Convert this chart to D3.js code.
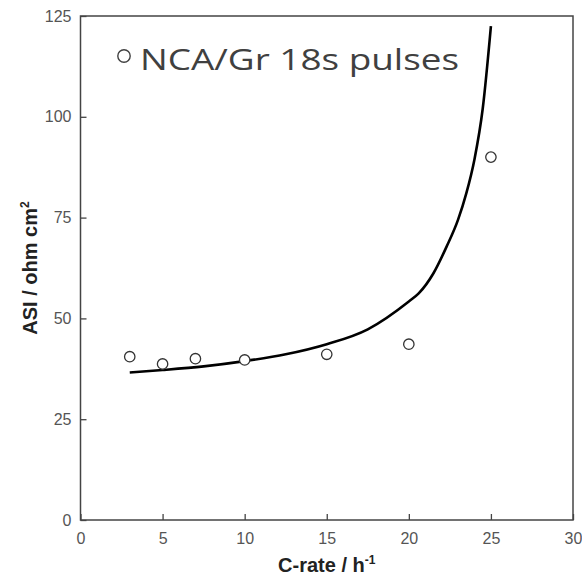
<!DOCTYPE html>
<html>
<head>
<meta charset="utf-8">
<script src="https://cdn.jsdelivr.net/npm/d3@7"></script>
<style>
  html, body { margin: 0; padding: 0; background: #fff; }
  svg { display: block; }
</style>
</head>
<body>
<div id="chart"></div>
<script>
// Measured points (C-rate, ASI)
const pointRates = [3, 5, 7, 10, 15, 20, 25];
const pointAsi = [40.5, 38.7, 40, 39.7, 41.1, 43.6, 90];

// Model curve
const curveRates = [3, 5, 7.5, 10, 12.5, 15, 17.5, 20, 20.6, 21.5, 22.3, 23, 23.5, 24, 24.5, 25];
const curveAsi = [36.6, 37.2, 38.1, 39.4, 41.1, 43.6, 47.3, 54.2, 56.2, 61.2, 67.8, 74.5, 81, 89.5, 102, 122.5];

const xTicks = [0, 5, 10, 15, 20, 25, 30];
const yTicks = [0, 25, 50, 75, 100, 125];

const W = 582, H = 580;
const margins = { top: 16, right: 9, bottom: 60, left: 80.5 };
const width = W - margins.left - margins.right;
const height = H - margins.top - margins.bottom;

const svg = d3.select('#chart').append('svg')
  .attr('width', W)
  .attr('height', H);

const g = svg.append('g')
  .attr('transform', `translate(${margins.left}, ${margins.top})`);

const x = d3.scaleLinear().domain([0, 30]).range([0, width]);
const y = d3.scaleLinear().domain([0, 125]).range([height, 0]);

// Axes, ticks pointing inward
const xAxis = d3.axisBottom(x).tickValues(xTicks).tickSize(-6).tickPadding(13);
const yAxis = d3.axisLeft(y).tickValues(yTicks).tickSize(-6).tickPadding(9);

const gx = g.append('g')
  .attr('transform', `translate(0, ${height})`)
  .call(xAxis);
const gy = g.append('g').call(yAxis);

[gx, gy].forEach(ax => {
  ax.select('.domain').remove();
  ax.selectAll('.tick line').attr('stroke', '#444').attr('stroke-width', 1.3);
  ax.selectAll('.tick text')
    .attr('fill', '#555')
    .attr('font-family', 'Liberation Sans, Arial, sans-serif')
    .attr('font-size', 16);
});

// Frame
g.append('rect')
  .attr('x', 0).attr('y', 0)
  .attr('width', width).attr('height', height)
  .attr('fill', 'none')
  .attr('stroke', '#444')
  .attr('stroke-width', 1.5);

// Curve
const curveData = curveRates.map((r, i) => ({ r, a: curveAsi[i] }));
const line = d3.line()
  .x(d => x(d.r))
  .y(d => y(d.a))
  .curve(d3.curveMonotoneX);

g.append('path')
  .datum(curveData)
  .attr('d', line)
  .attr('fill', 'none')
  .attr('stroke', '#000')
  .attr('stroke-width', 2.6);

// Points
const pts = pointRates.map((r, i) => ({ r, a: pointAsi[i] }));
g.selectAll('.pt')
  .data(pts)
  .enter()
  .append('circle')
  .attr('class', 'pt')
  .attr('cx', d => x(d.r))
  .attr('cy', d => y(d.a))
  .attr('r', 5.2)
  .attr('fill', '#fff')
  .attr('stroke', '#333')
  .attr('stroke-width', 1.3);

// Axis labels
const xLabel = svg.append('text')
  .attr('x', margins.left + width / 2)
  .attr('y', 572)
  .attr('text-anchor', 'middle')
  .attr('font-family', 'Liberation Sans, Arial, sans-serif')
  .attr('font-weight', 'bold')
  .attr('font-size', 20)
  .attr('fill', '#222');
xLabel.append('tspan').text('C-rate / h');
xLabel.append('tspan').attr('dy', -8).attr('font-size', 12).text('-1');

const yLabel = svg.append('text')
  .attr('transform', `translate(37, ${margins.top + height / 2}) rotate(-90)`)
  .attr('text-anchor', 'middle')
  .attr('font-family', 'Liberation Sans, Arial, sans-serif')
  .attr('font-weight', 'bold')
  .attr('font-size', 20)
  .attr('fill', '#222');
yLabel.append('tspan').text('ASI / ohm cm');
yLabel.append('tspan').attr('dy', -8).attr('font-size', 12).text('2');

// Legend
svg.append('circle')
  .attr('cx', 124)
  .attr('cy', 56)
  .attr('r', 6.2)
  .attr('fill', 'none')
  .attr('stroke', '#404040')
  .attr('stroke-width', 1.4);

svg.append('text')
  .attr('x', 140)
  .attr('y', 70)
  .attr('font-family', 'Open Sans, Lato, sans-serif')
  .attr('font-size', 29)
  .attr('fill', '#404040')
  .attr('textLength', 319)
  .attr('lengthAdjust', 'spacingAndGlyphs')
  .text('NCA/Gr 18s pulses');
</script>
</body>
</html>
